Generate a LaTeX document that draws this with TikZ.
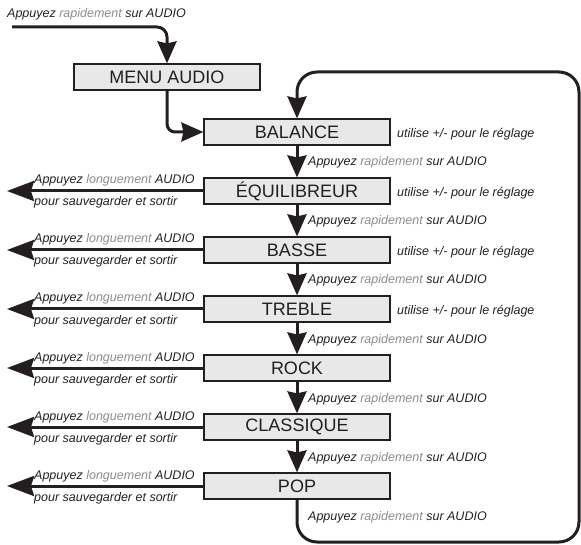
\documentclass[tikz,border=0pt]{standalone}
\usepackage{fontspec}
\setmainfont{Liberation Sans}
\usetikzlibrary{arrows.meta}
\definecolor{inkdark}{HTML}{231F20}
\definecolor{softgray}{HTML}{8C8C8C}
\definecolor{boxfill}{HTML}{E8E8E8}
\newcommand{\soft}[1]{\textcolor{softgray}{#1}}
\begin{document}
\begin{tikzpicture}[x=1pt,y=-1pt]

\tikzset{menubox/.style={draw=inkdark, fill=boxfill, line width=1.2pt, minimum width=186pt, minimum height=26pt, inner sep=0pt, text=inkdark, font=\fontsize{18}{20}\selectfont}}
\tikzset{flow/.style={draw=inkdark, line width=3pt, -{Stealth[length=22pt, width=19pt, inset=2pt]}}}
\tikzset{exit/.style={flow, -{Stealth[length=27pt, width=20pt, inset=3pt]}}}
\tikzset{hint/.style={anchor=base west, inner sep=0pt, text=inkdark, font=\fontsize{12.5}{14}\selectfont\itshape}}

\useasboundingbox (0,0) rectangle (581,545);

\node[menubox] (menu) at (167,77) {MENU AUDIO};
\node[menubox] (balance) at (297,132) {BALANCE};
\node[menubox] (equil) at (297,191) {ÉQUILIBREUR};
\node[menubox] (basse) at (297,250) {BASSE};
\node[menubox] (treble) at (297,309) {TREBLE};
\node[menubox] (rock) at (297,368) {ROCK};
\node[menubox] (classique) at (297,427) {CLASSIQUE};
\node[menubox] (pop) at (297,486) {POP};

% entry into the menu
\node[hint] (press0) at (7,18) {Appuyez \soft{rapidement} sur AUDIO};
\coordinate (entry) at (12,27);
\draw[flow, rounded corners=10pt] (entry) -| (menu.north);
\draw[flow, rounded corners=8pt] (menu.south) |- (balance.west);

% short presses, down the list
\draw[flow] (balance.south) -- (equil.north);
\draw[flow] (equil.south) -- (basse.north);
\draw[flow] (basse.south) -- (treble.north);
\draw[flow] (treble.south) -- (rock.north);
\draw[flow] (rock.south) -- (classique.north);
\draw[flow] (classique.south) -- (pop.north);

\node[hint] (press1) at (308,166) {Appuyez \soft{rapidement} sur AUDIO};
\node[hint] (press2) at (308,225) {Appuyez \soft{rapidement} sur AUDIO};
\node[hint] (press3) at (308,284) {Appuyez \soft{rapidement} sur AUDIO};
\node[hint] (press4) at (308,343) {Appuyez \soft{rapidement} sur AUDIO};
\node[hint] (press5) at (308,402) {Appuyez \soft{rapidement} sur AUDIO};
\node[hint] (press6) at (308,461) {Appuyez \soft{rapidement} sur AUDIO};
\node[hint] (press7) at (308,520) {Appuyez \soft{rapidement} sur AUDIO};

% back to the top
\coordinate (loopbot) at (579,542);
\coordinate (looptop) at (579,72);
\draw[flow, rounded corners=20pt] (pop.south) |- (loopbot) -- (looptop) -| (balance.north);

% settings
\node[hint] (balance-set) at (397,137.5) {utilise +/- pour le réglage};
\node[hint] (equil-set) at (397,196.5) {utilise +/- pour le réglage};
\node[hint] (basse-set) at (397,255.5) {utilise +/- pour le réglage};
\node[hint] (treble-set) at (397,314.5) {utilise +/- pour le réglage};

% long presses, save and leave
\coordinate (equil-out) at (7,191);
\draw[exit] (equil.west) -- (equil-out);
\node[hint] (equil-keep) at (34,184) {Appuyez \soft{longuement} AUDIO};
\node[hint] (equil-save) at (34,206) {pour sauvegarder et sortir};

\coordinate (basse-out) at (7,250);
\draw[exit] (basse.west) -- (basse-out);
\node[hint] (basse-keep) at (34,243) {Appuyez \soft{longuement} AUDIO};
\node[hint] (basse-save) at (34,265) {pour sauvegarder et sortir};

\coordinate (treble-out) at (7,309);
\draw[exit] (treble.west) -- (treble-out);
\node[hint] (treble-keep) at (34,302) {Appuyez \soft{longuement} AUDIO};
\node[hint] (treble-save) at (34,324) {pour sauvegarder et sortir};

\coordinate (rock-out) at (7,368);
\draw[exit] (rock.west) -- (rock-out);
\node[hint] (rock-keep) at (34,361) {Appuyez \soft{longuement} AUDIO};
\node[hint] (rock-save) at (34,383) {pour sauvegarder et sortir};

\coordinate (classique-out) at (7,427);
\draw[exit] (classique.west) -- (classique-out);
\node[hint] (classique-keep) at (34,420) {Appuyez \soft{longuement} AUDIO};
\node[hint] (classique-save) at (34,442) {pour sauvegarder et sortir};

\coordinate (pop-out) at (7,486);
\draw[exit] (pop.west) -- (pop-out);
\node[hint] (pop-keep) at (34,479) {Appuyez \soft{longuement} AUDIO};
\node[hint] (pop-save) at (34,501) {pour sauvegarder et sortir};

\end{tikzpicture}
\end{document}
